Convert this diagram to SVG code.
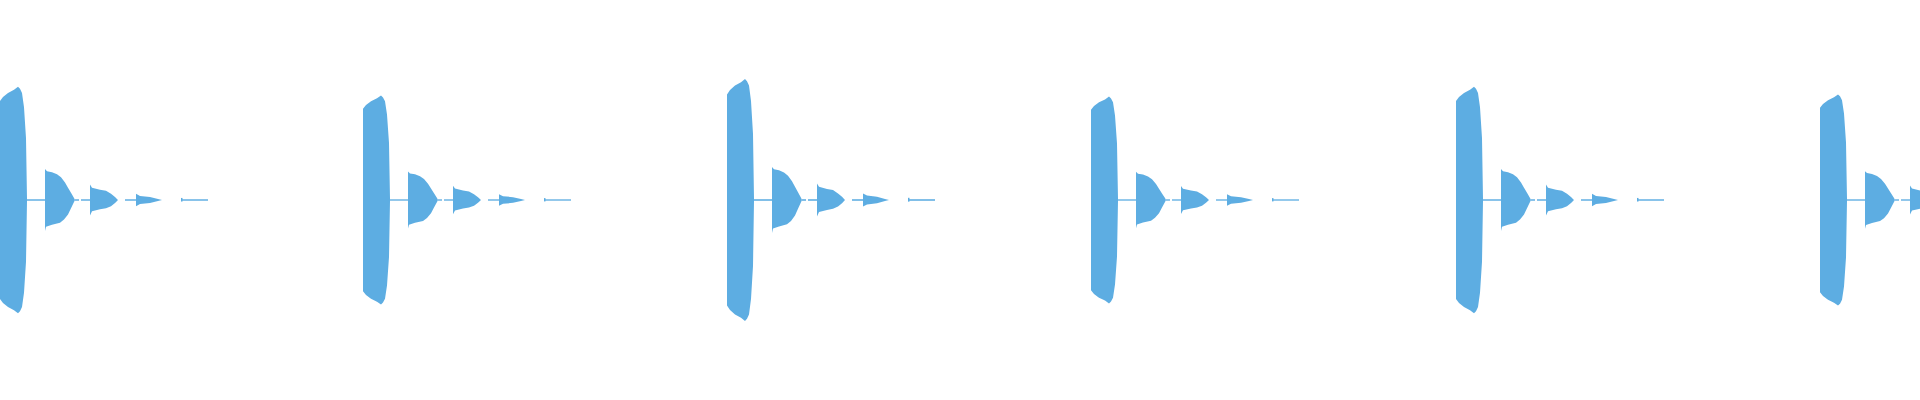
<svg xmlns="http://www.w3.org/2000/svg" width="1920" height="400" viewBox="0 0 1920 400">
<style>.w{fill:#5dade2}</style>
<defs>
<g id="burst">
<path class="w" d="M0,-96 L3,-100 L8,-104 L14,-107 L18,-110 L20,-108 L22,-104 L24,-90 L26,-60 L27,-1 L27,1 L26,60 L24,90 L22,104 L20,108 L18,110 L14,107 L8,104 L3,100 L0,96 Z"/>
<rect class="w" x="27" y="-0.7" width="18" height="1.4"/>
<path class="w" d="M45,-30 L47,-28 L52,-27 L57,-25 L61,-22 L65,-17 L68,-12 L71,-7 L74,-2 L75,0 L74,2 L71,8 L68,14 L64,19 L60,22 L52,24 L46,26 L45,30 Z"/>
<rect class="w" x="75" y="-0.7" width="4" height="1.4"/>
<rect class="w" x="81" y="-0.7" width="9" height="1.4"/>
<path class="w" d="M90,-15 L92,-12 L100,-10 L106,-9 L111,-6 L115,-3 L118,0 L115,3 L111,6 L106,8 L100,9 L92,11 L90,15 Z"/>
<rect class="w" x="125" y="-0.7" width="11" height="1.4"/>
<path class="w" d="M136,-6 L140,-4 L150,-3 L158,-1 L162,0 L158,1 L150,3 L140,4 L136,6 Z"/>
<rect class="w" x="181" y="-0.7" width="27" height="1.4"/>
<rect class="w" x="181" y="-2" width="1.5" height="3.5"/>
</g>
</defs>
<use href="#burst" transform="translate(0,200) scale(1,1.03)"/>
<use href="#burst" transform="translate(363,200) scale(1,0.95)"/>
<use href="#burst" transform="translate(727,200) scale(1,1.1)"/>
<use href="#burst" transform="translate(1091,200) scale(1,0.94)"/>
<use href="#burst" transform="translate(1456,200) scale(1,1.03)"/>
<use href="#burst" transform="translate(1820,200) scale(1,0.96)"/>
</svg>
